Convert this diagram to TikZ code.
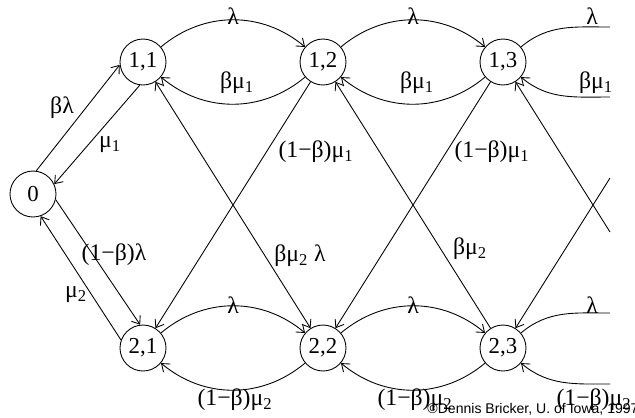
\documentclass[tikz,border=0pt]{standalone}
\usepackage{fontspec}
\setmainfont{Liberation Serif}
\newfontfamily\notefont{Liberation Sans}
\usetikzlibrary{arrows.meta}

\newcommand{\mui}{μ\textsubscript{1}}
\newcommand{\muii}{μ\textsubscript{2}}

\begin{document}
\begin{tikzpicture}[x=0.02cm, y=0.02cm,
  state/.style={circle, draw, minimum size=0.92cm, inner sep=0pt,
    font=\fontsize{13}{15}\selectfont},
  lbl/.style={font=\fontsize{13.5}{15}\selectfont, inner sep=0pt},
  arr/.style={-{Straight Barb[length=4pt,width=6pt]}},
  biarr/.style={{Straight Barb[length=4pt,width=6pt]}-{Straight Barb[length=4pt,width=6pt]}},
  line width=0.5pt
]
  \useasboundingbox (0,0) rectangle (635,-417);

  % === STATES ===
  \node[state] (n0) at (33,-194) {0};
  \foreach \j/\x in {1/143, 2/323, 3/503} {
    \node[state] (n1\j) at (\x,-62) {1,\j};
    \node[state] (n2\j) at (\x,-348) {2,\j};
  }

  % loose ends at the right edge
  \coordinate (e1a) at (610,-27);
  \coordinate (e1b) at (610,-97);
  \coordinate (e2a) at (610,-313);
  \coordinate (e2b) at (610,-384);
  \coordinate (e1d) at (610,-232);
  \coordinate (e2d) at (610,-178);

  % === FROM / TO EMPTY STATE ===
  \draw[arr] (n0.82) -- (n11.187);
  \draw[arr] (n11.262) -- (n0.25);
  \draw[arr] (n0.346) -- (n21.97);
  \draw[arr] (n21.160) -- (n0.289);

  % === ALONG THE ROWS ===
  \foreach \a/\b in {1/2, 2/3} {
    \draw[arr] (n1\a) to[bend left=40] (n1\b);
    \draw[arr] (n1\b) to[bend left=40] (n1\a);
    \draw[arr] (n2\a) to[bend left=40] (n2\b);
    \draw[arr] (n2\b) to[bend left=40] (n2\a);
  }
  \draw (n13) to[out=40,in=180] (e1a);
  \draw[arr] (e1b) to[out=180,in=-40] (n13);
  \draw (n23) to[out=40,in=180] (e2a);
  \draw[arr] (e2b) to[out=180,in=-40] (n23);

  % === BETWEEN THE ROWS ===
  \draw[arr] (n12) -- (n21);
  \draw[arr] (n13) -- (n22);
  \draw[biarr] (n22) -- (n11);
  \draw[arr] (n23) -- (n12);
  \draw[arr] (e1d) -- (n13);
  \draw[arr] (e2d) -- (n23);

  % === RATES ===
  \node[lbl] (l01) at (62,-108) {βλ};
  \node[lbl] (l10) at (110,-145) {\mui};
  \node[lbl] (l02) at (114,-255) {(1−β)λ};
  \node[lbl] (l20) at (76,-295) {\muii};
  \foreach \i/\x in {1/233, 2/413, 3/592} {
    \node[lbl] (lt\i) at (\x,-16) {λ};
    \node[lbl] (lb\i) at (\x+4,-83) {β\mui};
    \node[lbl] (mt\i) at (\x,-305) {λ};
    \node[lbl] (mb\i) at (\x+2,-400) {(1−β)\muii};
  }
  \node[lbl] (d1) at (316,-152) {(1−β)\mui};
  \node[lbl] (d2) at (492,-152) {(1−β)\mui};
  \node[lbl] (u1) at (300,-256) {β\muii{} λ};
  \node[lbl] (u2) at (470,-249) {β\muii};

  \node[font=\notefont\fontsize{8}{9}\selectfont, anchor=west, inner sep=0pt]
    (credit) at (427,-409) {©Dennis Bricker, U. of Iowa, 1997};
\end{tikzpicture}
\end{document}
